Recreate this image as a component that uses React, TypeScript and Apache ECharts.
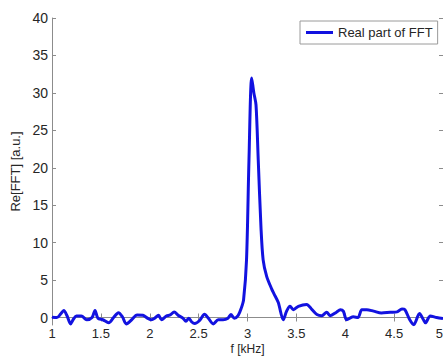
import React, { useEffect, useRef } from "react";
import * as echarts from "echarts";

const freqs = [
  1.0, 1.05, 1.09, 1.12, 1.155, 1.19, 1.22, 1.25, 1.3, 1.355, 1.41, 1.44, 1.47, 1.52, 1.58, 1.63, 1.68, 1.72,
  1.76, 1.815, 1.87, 1.93, 1.985, 2.02, 2.05, 2.09, 2.12, 2.17, 2.21, 2.25, 2.29, 2.34, 2.37, 2.4, 2.43, 2.46,
  2.51, 2.56, 2.6, 2.65, 2.7, 2.75, 2.8, 2.83, 2.865, 2.905, 2.935, 2.96, 2.99, 3.015, 3.043, 3.065, 3.087,
  3.11, 3.138, 3.16, 3.196, 3.248, 3.27, 3.315, 3.366, 3.4, 3.435, 3.47, 3.52, 3.605, 3.66, 3.71, 3.76, 3.81,
  3.845, 3.91, 3.95, 3.98, 4.015, 4.08, 4.13, 4.17, 4.22, 4.29, 4.37, 4.46, 4.53, 4.58, 4.61, 4.66, 4.7, 4.76,
  4.8, 4.82, 4.87, 4.935, 5.0,
];
const realPart = [
  0.05, 0.0, 0.5, 0.95, 0.2, -0.85, -0.2, 0.2, 0.2, -0.3, 0.0, 0.95, -0.1, -0.3, -0.7, 0.0, 0.65, 0.1,
  -0.85, -0.3, 0.35, 0.3, -0.15, -0.3, -0.1, 0.3, -0.3, 0.2, 0.35, 0.75, 0.3, -0.1, -0.5, -0.1, -0.6, -0.8,
  -0.4, 0.45, -0.1, -0.85, -0.3, -0.3, -0.1, 0.4, -0.1, 0.3, 1.2, 2.4, 7.7, 21, 32, 30, 28.4,
  21, 12, 7.7, 5.5, 3.8, 3.2, 2.0, -0.3, 0.85, 1.5, 1.05, 1.5, 1.75, 1.05, 0.4, 0.25, 0.7,
  0.25, 0.7, 1.05, 0.85, -0.3, 0.1, 0.0, 1.05, 1.05, 0.85, 0.6, 0.7, 0.75, 1.15, 1.05, -0.3, -0.95, 0.55,
  -0.3, -0.7, 0.2, 0.0, -0.15,
];
const yTicks = [0, 5, 10, 15, 20, 25, 30, 35, 40];
const seriesName = "Real part of FFT";

export default function App() {
  const ref = useRef<HTMLDivElement>(null);
  useEffect(() => {
    if (!ref.current) return;
    const chart = echarts.init(ref.current, null, { renderer: "svg" });
    const font = "Liberation Sans, Arial, sans-serif";
    const axisColor = "#8c8c8c";
    const textColor = "#262626";
    const lineColor = "#1212e0";
    const tickCommon = { show: true, inside: true, length: 4, lineStyle: { color: axisColor, width: 1 } };
    chart.setOption({
      animation: false,
      backgroundColor: "#ffffff",
      textStyle: { fontFamily: font },
      grid: { left: 52, right: 0, top: 18, bottom: 33, containLabel: false, outerBoundsMode: "none" },
      legend: {
        left: 300,
        top: 21,
        orient: "vertical",
        padding: [5, 5, 5, 6],
        itemWidth: 27,
        itemHeight: 3,
        itemGap: 4,
        backgroundColor: "#ffffff",
        borderColor: "#9a9a9a",
        borderWidth: 1,
        borderRadius: 0,
        textStyle: { fontFamily: font, fontSize: 13, color: textColor },
        data: [{ name: seriesName, icon: "rect", itemStyle: { color: lineColor } }],
      },
      xAxis: [
        {
          type: "value",
          min: 1,
          max: 5,
          interval: 0.5,
          position: "bottom",
          name: "f [kHz]",
          nameLocation: "middle",
          nameGap: 18,
          nameMoveOverlap: false,
          nameTextStyle: { fontFamily: font, fontSize: 12, color: textColor },
          axisLine: { show: true, lineStyle: { color: axisColor, width: 1 } },
          axisTick: tickCommon,
          axisLabel: { fontFamily: font, fontSize: 13, color: textColor, margin: 2, alignMaxLabel: "right" },
          splitLine: { show: false },
        },
        {
          type: "value",
          min: 1,
          max: 5,
          interval: 0.5,
          position: "top",
          axisLine: { show: true, lineStyle: { color: axisColor, width: 1 } },
          axisTick: tickCommon,
          axisLabel: { show: false },
          splitLine: { show: false },
        },
      ],
      yAxis: [
        {
          type: "value",
          min: -1,
          max: 40,
          position: "left",
          name: "Re[FFT] [a.u.]",
          nameLocation: "middle",
          nameGap: 30,
          nameMoveOverlap: false,
          nameTextStyle: { fontFamily: font, fontSize: 13, color: textColor },
          axisLine: { show: true, lineStyle: { color: axisColor, width: 1 } },
          axisTick: { ...tickCommon, customValues: yTicks },
          axisLabel: { fontFamily: font, fontSize: 14, color: textColor, margin: 4, customValues: yTicks },
          splitLine: { show: false },
        },
        {
          type: "value",
          min: -1,
          max: 40,
          position: "right",
          axisLine: { show: true, lineStyle: { color: axisColor, width: 1 } },
          axisTick: { ...tickCommon, customValues: yTicks },
          axisLabel: { show: false },
          splitLine: { show: false },
        },
      ],
      series: [
        {
          name: seriesName,
          type: "line",
          xAxisIndex: 0,
          yAxisIndex: 0,
          data: freqs.map((f, i) => [f, realPart[i]]),
          symbol: "none",
          smooth: 0.3,
          lineStyle: { color: lineColor, width: 3 },
          itemStyle: { color: lineColor },
          clip: true,
        },
      ],
    });
    return () => chart.dispose();
  }, []);
  return <div ref={ref} style={{ position: "absolute", left: 0, top: 0, width: 443, height: 358 }} />;
}
